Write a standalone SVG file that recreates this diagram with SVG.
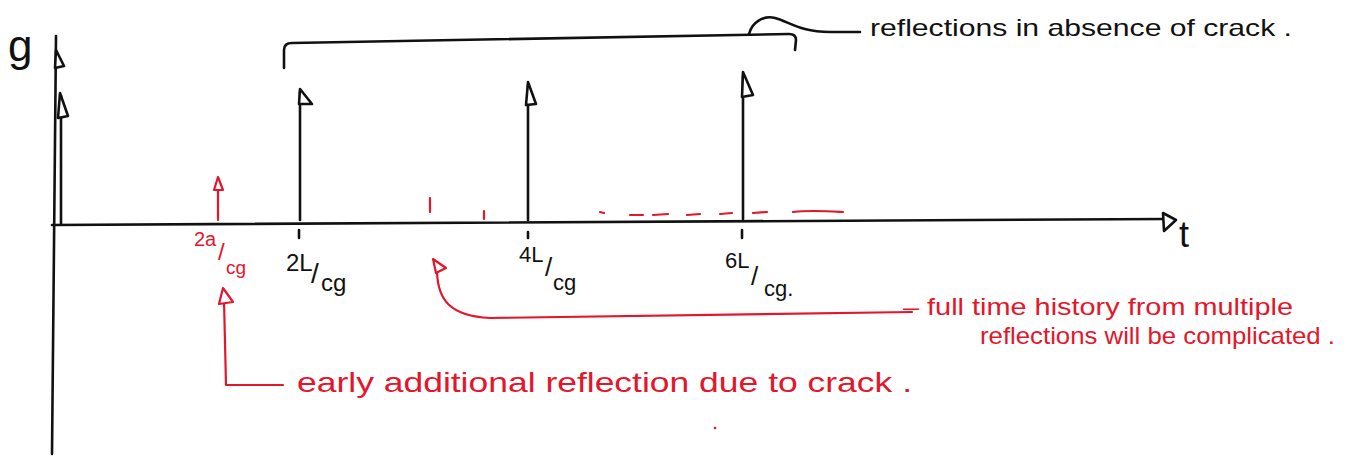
<svg xmlns="http://www.w3.org/2000/svg" width="1351" height="456" viewBox="0 0 1351 456">
<style>
.k{stroke:#111;stroke-width:2.6;fill:none;stroke-linecap:round;stroke-linejoin:round}
.r{stroke:#e3162b;stroke-width:2.2;fill:none;stroke-linecap:round;stroke-linejoin:round}
.kh{stroke:#111;stroke-width:2.6;fill:#fff;stroke-linejoin:round}
.rh{stroke:#e3162b;stroke-width:2.2;fill:#fff;stroke-linejoin:round}
.tk{font-family:"Liberation Sans",Arial,sans-serif;fill:#111}
.tr{font-family:"Liberation Sans",Arial,sans-serif;fill:#e3162b}
</style>
<rect width="1351" height="456" fill="#fff"/>
<g id="axes">
<path class="k" d="M56,36 L52,454"/>
<polygon class="kh" points="56,50 64,66 55,68"/>
<path class="k" d="M52,225 L1166,219"/>
<polygon class="kh" points="1176,220 1163,213 1164,231"/>
<text class="tk" x="8" y="61" font-size="44">g</text>
<text class="tk" x="1179" y="247" font-size="36">t</text>
</g>
<g id="connectors">
<path class="k" d="M61,224 L61,96"/>
<polygon class="kh" points="60,93 68,116 58,118"/>
<path class="k" d="M300,220 L300,92"/>
<polygon class="kh" points="300,89 312,104 299,104"/>
<path class="k" d="M528,220 L528,85"/>
<polygon class="kh" points="528,82 536,104 526,105"/>
<path class="k" d="M743,219 L743,76"/>
<polygon class="kh" points="743,72 753,95 742,97"/>
<path class="k" d="M299,230 L299,238 M528,232 L528,238 M742,230 L742,238"/>
<path class="k" d="M284,68 L284,50 Q284,43 292,43 L789,34 Q796,34 796,40 L795,50"/>
<path class="k" d="M749,34 C752,22 764,15 775,18 C790,22 800,32 830,32 L860,32"/>
<path class="r" d="M218,220 L218,182"/>
<polygon class="rh" points="218,177 223,190 214,190"/>
<path class="r" d="M430,198 L430,212 M484,211 L484,219"/>
<path class="r" d="M600,212 L604,213 M630,215 L643,215 M653,215 L668,214 M687,215 L700,214 M720,214 L732,213 M753,213 L767,212 M793,212 C810,210 825,211 843,212"/>
<path class="r" d="M224,300 L226,385 L283,385"/>
<polygon class="rh" points="223,288 233,302 219,304"/>
<path class="r" d="M437,272 C438,300 450,316 490,318 L912,312"/>
<polygon class="rh" points="433,259 446,268 436,273"/>
<circle cx="715" cy="428" r="1.3" fill="#e3162b"/>
</g>
<g id="labels">
<text class="tk" font-size="24"><tspan x="286" y="271">2L</tspan><tspan x="311" y="283" font-size="28">/</tspan><tspan x="321" y="291">cg</tspan></text>
<text class="tk" font-size="22"><tspan x="519" y="262">4L</tspan><tspan x="545" y="276" font-size="26">/</tspan><tspan x="553" y="290">cg</tspan></text>
<text class="tk" font-size="22"><tspan x="725" y="268">6L</tspan><tspan x="751" y="285" font-size="26">/</tspan><tspan x="764" y="296">cg.</tspan></text>
<text class="tr" font-size="20"><tspan x="194" y="246">2a</tspan><tspan x="218" y="260" font-size="24">/</tspan><tspan x="226" y="274" font-size="19">cg</tspan></text>
<text class="tk" x="870" y="36" font-size="24" textLength="422" lengthAdjust="spacingAndGlyphs">reflections in absence of crack .</text>
<text class="tr" x="297" y="392" font-size="28" textLength="615" lengthAdjust="spacingAndGlyphs">early additional reflection due to crack .</text>
<text class="tr" font-size="24"><tspan x="903" y="315" textLength="390" lengthAdjust="spacingAndGlyphs">– full time history from multiple</tspan><tspan x="980" y="344" textLength="355" lengthAdjust="spacingAndGlyphs">reflections will be complicated .</tspan></text>
</g>
</svg>
